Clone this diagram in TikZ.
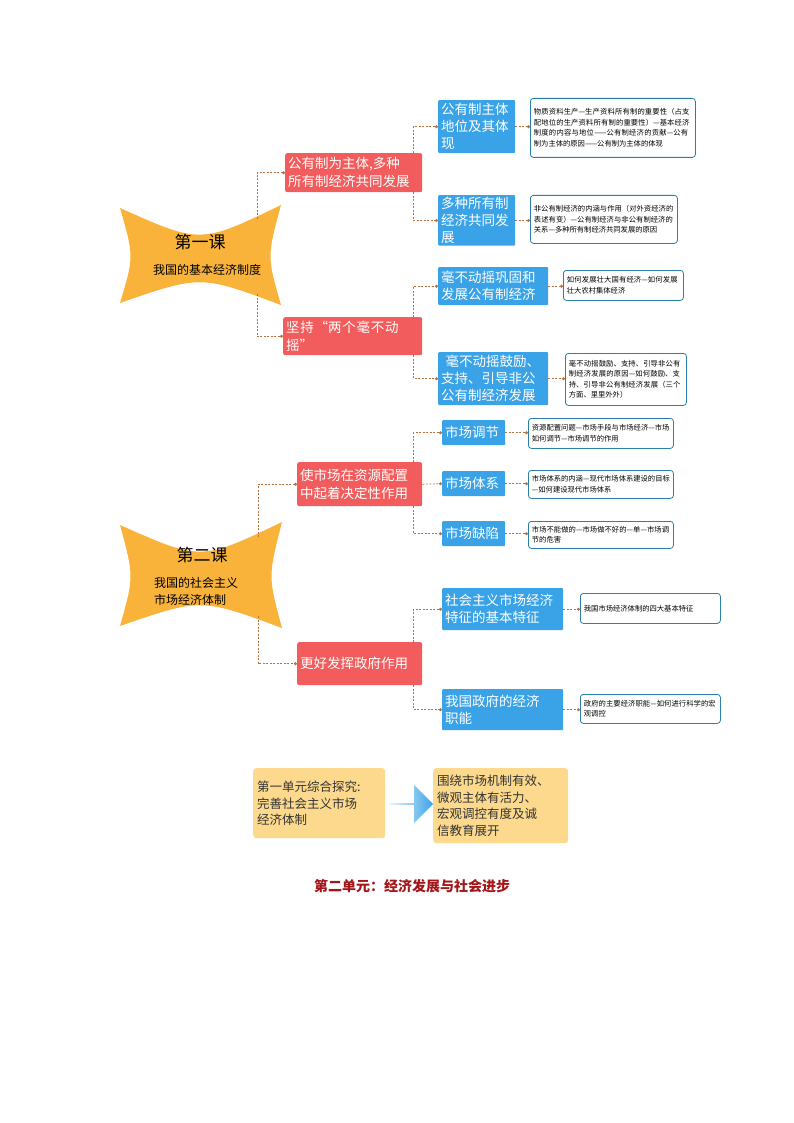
\documentclass[tikz,border=0pt]{standalone}
\usepackage{fontspec}
\setmainfont{Noto Sans CJK SC}
\XeTeXlinebreaklocale "zh"
\XeTeXlinebreakskip=0pt plus 1pt
\usetikzlibrary{calc,arrows.meta,shapes.arrows}
\definecolor{redb}{HTML}{F25C5C}
\definecolor{blueb}{HTML}{3AA3E8}
\definecolor{orb}{HTML}{F9B33A}
\definecolor{lin}{HTML}{B5703F}
\definecolor{wb}{HTML}{2B7FA8}
\definecolor{sand}{HTML}{FCD98D}
\definecolor{title}{HTML}{A3161A}
\tikzset{
 rbox/.style={fill=redb,text=white,rounded corners=2pt,align=left,inner sep=2pt,font=\fontsize{13.5}{18}\selectfont,anchor=north west},
 bbox/.style={fill=blueb,text=white,rounded corners=1pt,align=left,inner sep=2pt,font=\fontsize{13.5}{17}\selectfont,anchor=north west},
 wbox/.style={draw=wb,line width=0.8pt,fill=white,rounded corners=3pt,align=left,inner sep=3pt,font=\fontsize{7.3}{10.5}\selectfont,anchor=north west},
 sbox/.style={fill=sand,rounded corners=3pt,align=left,inner sep=4pt,font=\fontsize{12.5}{16.5}\selectfont,anchor=north west,text=black!80},
 conn/.style={draw=lin,dashed,dash pattern=on 2pt off 1.5pt,line width=0.7pt,-{Circle[length=3pt]}},
}
\newcommand{\chshape}[4]{% x1 y1 x2 y2
 \fill[orb] (#1,#2) .. controls ({(#1+#3)/2},{#2+36}) .. (#3,{#2-3}) .. controls ({#3-14},{(#2+#4)/2}) .. (#3,#4) .. controls ({(#1+#3)/2},{#4-30}) .. (#1,{#4-2}) .. controls ({#1+14},{(#2+#4)/2}) .. cycle;}
\begin{document}
\begin{tikzpicture}[x=1pt,y=-1pt]
\useasboundingbox (0,0) rectangle (794,1123);
% chapter 1
\chshape{120}{208}{281}{305}
\node (c1) at (200,242) {\fontsize{17}{20}\selectfont 第一课};
\node (c1b) at (207,270) {\fontsize{12}{14}\selectfont 我国的基本经济制度};
\coordinate (c1t) at (257,219);
\coordinate (c1d) at (257,294);
% red nodes
\node[rbox,minimum width=137,minimum height=39,text width=131] (r1) at (285,153) {公有制为主体,多种\\所有制经济共同发展};
\node[rbox,minimum width=139,minimum height=38,text width=133] (r2) at (283,317) {坚持“两个毫不动摇”};
% blue nodes
\node[bbox,minimum width=77,minimum height=53,text width=71] (b1a) at (438,100) {公有制主体\\地位及其体\\现};
\node[bbox,minimum width=77,minimum height=48,text width=71] (b1b) at (438,195) {多种所有制\\经济共同发\\展};
\node[bbox,minimum width=110,minimum height=38,text width=104] (b2a) at (438,267) {毫不动摇巩固和\\发展公有制经济};
\node[bbox,minimum width=110,minimum height=53,text width=104] (b2b) at (438,352) {\ 毫不动摇鼓励、\\支持、引导非公\\公有制经济发展};
% white nodes
\node[wbox,minimum width=165,minimum height=59,text width=158] (w1a) at (530,98) {物质资料生产—生产资料所有制的重要性（占支配地位的生产资料所有制的重要性）—基本经济制度的内容与地位——公有制经济的贡献—公有制为主体的原因——公有制为主体的体现};
\node[wbox,minimum width=147,minimum height=48,text width=140] (w1b) at (530,195) {非公有制经济的内涵与作用（对外资经济的表述有变）—公有制经济与非公有制经济的关系—多种所有制经济共同发展的原因};
\node[wbox,minimum width=120,minimum height=30,text width=113] (w2a) at (563,270) {如何发展壮大国有经济—如何发展壮大农村集体经济};
\node[wbox,minimum width=121,minimum height=52,text width=114] (w2b) at (565,353) {毫不动摇鼓励、支持、引导非公有制经济发展的原因—如何鼓励、支持、引导非公有制经济发展（三个方面、里里外外）};
\draw[conn] (c1t) |- (r1.west);
\draw[conn] (c1d) |- (r2.west);
\draw[conn] ($(r1.north east)+(-9,0)$) |- (b1a.west);
\draw[conn] ($(r1.south east)+(-9,0)$) |- (b1b.west);
\draw[conn] ($(r2.north east)+(-9,0)$) |- (b2a.west);
\draw[conn] ($(r2.south east)+(-9,0)$) |- (b2b.west);
\draw[conn] (b1a.east) -- (b1a.east -| w1a.west);
\draw[conn] (b1b.east) -- (b1b.east -| w1b.west);
\draw[conn] (b2a.east) -- (b2a.east -| w2a.west);
\draw[conn] (b2b.east) -- (b2b.east -| w2b.west);
% chapter 2
\chshape{120}{525}{282}{628}
\node (c2) at (202,555) {\fontsize{17}{20}\selectfont 第二课};
\node[align=left,font=\fontsize{12}{17}\selectfont] (c2b) at (196,591) {我国的社会主义\\市场经济体制};
\coordinate (c2t) at (258,537);
\coordinate (c2d) at (258,616);
\node[rbox,minimum width=125,minimum height=44,text width=119] (r3) at (297,462) {使市场在资源配置\\中起着决定性作用};
\node[rbox,minimum width=125,minimum height=43,text width=119] (r4) at (297,642) {更好发挥政府作用};
\node[bbox,minimum width=63,minimum height=25,text width=57] (b3a) at (442,420) {市场调节};
\node[bbox,minimum width=63,minimum height=25,text width=57] (b3b) at (442,471) {市场体系};
\node[bbox,minimum width=63,minimum height=25,text width=57] (b3c) at (442,521) {市场缺陷};
\node[bbox,minimum width=121,minimum height=42,text width=115] (b4a) at (442,588) {社会主义市场经济\\特征的基本特征};
\node[bbox,minimum width=121,minimum height=41,text width=115] (b4b) at (442,689) {我国政府的经济\\职能};
\node[wbox,minimum width=145,minimum height=30,text width=138] (w3a) at (528,418) {资源配置问题—市场手段与市场经济—市场如何调节—市场调节的作用};
\node[wbox,minimum width=145,minimum height=28,text width=138] (w3b) at (528,470) {市场体系的内涵—现代市场体系建设的目标—如何建设现代市场体系};
\node[wbox,minimum width=145,minimum height=27,text width=138] (w3c) at (528,521) {市场不能做的—市场做不好的—单—市场调节的危害};
\node[wbox,minimum width=140,minimum height=30,text width=133] (w4a) at (580,593) {我国市场经济体制的四大基本特征};
\node[wbox,minimum width=140,minimum height=29,text width=133] (w4b) at (580,694) {政府的主要经济职能—如何进行科学的宏观调控};
\draw[conn] (c2t) |- (r3.west);
\draw[conn] (c2d) |- (r4.west);
\draw[conn] ($(r3.north east)+(-9,0)$) |- (b3a.west);
\draw[conn] (r3.east) -- (b3b.west);
\draw[conn] ($(r3.south east)+(-9,0)$) |- (b3c.west);
\draw[conn] ($(r4.north east)+(-9,0)$) |- (b4a.west);
\draw[conn] ($(r4.south east)+(-9,0)$) |- (b4b.west);
\draw[conn] (b3a.east) -- (b3a.east -| w3a.west);
\draw[conn] (b3b.east) -- (b3b.east -| w3b.west);
\draw[conn] (b3c.east) -- (b3c.east -| w3c.west);
\draw[conn] (b4a.east) -- (b4a.east -| w4a.west);
\draw[conn] (b4b.east) -- (b4b.east -| w4b.west);
% bottom
\node[sbox,minimum width=132,minimum height=70,text width=124] (s1) at (253,768) {第一单元综合探究:\\完善社会主义市场\\经济体制};
\node[sbox,minimum width=135,minimum height=75,text width=127] (s2) at (433,768) {围绕市场机制有效、\\微观主体有活力、\\宏观调控有度及诚\\信教育展开};
\node[single arrow,single arrow head extend=4pt,single arrow head indent=0pt,minimum height=44,minimum width=38,inner sep=0pt,shading angle=90,left color=blueb!10,right color=blueb,draw=none,anchor=west] (ar) at (389,804) {};
\node[text=title,font=\fontsize{14}{16}\selectfont\bfseries] (t) at (412,886) {第二单元：经济发展与社会进步};
\end{tikzpicture}
\end{document}
